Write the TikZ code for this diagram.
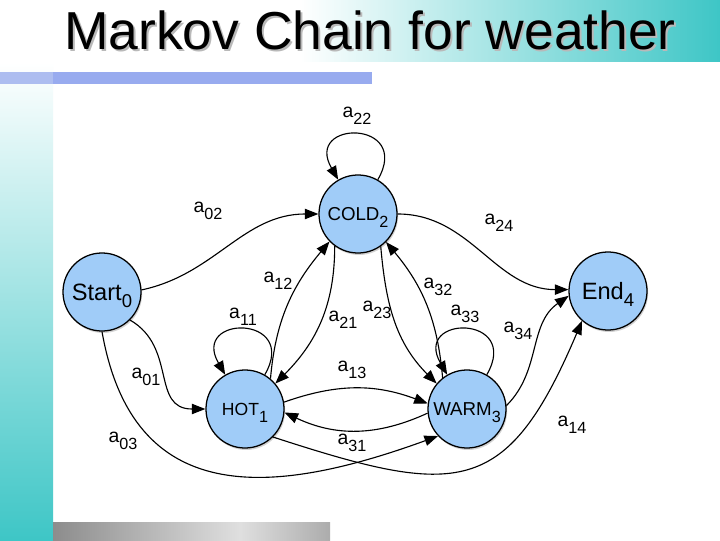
\documentclass[tikz,border=0pt]{standalone}
\usepackage{fontspec}
\setmainfont{Liberation Sans}
\usetikzlibrary{arrows.meta,shadows}
\definecolor{StateFill}{HTML}{A0CCF8}
\definecolor{SlideTeal}{HTML}{3EC6C6}
\definecolor{SlideBar}{HTML}{98ABEF}
\definecolor{SlideBarLight}{HTML}{ADBDF0}
\newcommand{\lowsub}[2][11.5]{\raisebox{-5pt}{\fontsize{#1}{#1}\selectfont #2}}

\begin{document}
\begin{tikzpicture}[
        x=0.025cm, y=0.025cm,
        state/.style={circle, draw=black, line width=0.9pt, fill=StateFill, minimum size=1.95cm, inner sep=0pt,
                      text depth=0pt, font=\fontsize{13.3}{15}\selectfont,
                      drop shadow={shadow xshift=0.8pt, shadow yshift=-1.4pt, opacity=0.35}},
        lbl/.style={font=\fontsize{13.8}{15}\selectfont, inner sep=0pt},
        arrow/.style={-{Triangle[length=3.4mm, width=2.6mm]}, line width=0.8pt}
    ]
        \useasboundingbox (0,0) rectangle (720,540);
        \fill[white] (0,0) rectangle (720,540);
        \shade[left color=white, right color=SlideTeal] (300,478) rectangle (720,540);
        \shade[top color=white, bottom color=SlideTeal] (0,0) rectangle (53,478);
        \fill[SlideBar] (0,456) rectangle (372,468);
        \fill[SlideBarLight] (0,456) rectangle (53,468);
        \shade[left color=gray!90, right color=gray!25] (53,0) rectangle (240,18);
        \shade[left color=gray!25, right color=gray!65] (240,0) rectangle (330,18);

        \node[text=gray!55, font=\fontsize{38}{40}\selectfont] (titleshade) at (372,508) {Markov Chain for weather};
        \node[font=\fontsize{38}{40}\selectfont] (title) at (370,510) {Markov Chain for weather};

        \node[state, font=\fontsize{16.8}{18}\selectfont] (start) at (102,248) {Start\lowsub[13.2]{0}};
        \node[state] (cold) at (358,326) {COLD\lowsub{2}};
        \node[state, font=\fontsize{16.8}{18}\selectfont] (endst) at (608,249) {End\lowsub[13.2]{4}};
        \node[state, font=\fontsize{12.5}{14}\selectfont] (hot) at (245,131) {HOT\lowsub{1}};
        \node[state] (warm) at (467,131) {WARM\lowsub{3}};

        \draw[arrow] (start.3) to[out=12, in=180] (cold.180);
        \draw[arrow] (cold.0) to[out=0, in=180] (endst.178);
        \draw[arrow] (start.-45) to[out=-30, in=180, looseness=1.2] (hot.180);
        \draw[arrow] (start.-90) to[out=-80, in=200, looseness=1.3] (warm.223);
        \draw[arrow] (hot.-45) to[out=-18, in=247, looseness=1.5] (endst.229);
        \draw[arrow] (warm.5) to[out=45, in=215] (endst.187);
        \draw[arrow] (hot.50) to[out=85, in=230] (cold.224);
        \draw[arrow] (cold.234) to[out=-90, in=45] (hot.40);
        \draw[arrow] (cold.305) to[out=-85, in=135] (warm.140);
        \draw[arrow] (warm.128) to[out=95, in=-50] (cold.315);
        \draw[arrow] (hot.10) to[bend left=20] (warm.172);
        \draw[arrow] (warm.186) to[bend left=25] (hot.-5);

        % self loops
        \draw[arrow] (cold.60) to[out=60, in=120, looseness=4.5] (cold.120);
        \draw[arrow] (hot.60) to[out=60, in=120, looseness=4.5] (hot.120);
        \draw[arrow] (warm.60) to[out=60, in=120, looseness=4.5] (warm.120);

        \node[lbl] (l22) at (357,424) {a\lowsub{22}};
        \node[lbl] (l02) at (208,329) {a\lowsub{02}};
        \node[lbl] (l24) at (499,317) {a\lowsub{24}};
        \node[lbl] (l12) at (278,259) {a\lowsub{12}};
        \node[lbl] (l11) at (243,223) {a\lowsub{11}};
        \node[lbl] (l21) at (343,220) {a\lowsub{21}};
        \node[lbl] (l23) at (377,230) {a\lowsub{23}};
        \node[lbl] (l32) at (438,253) {a\lowsub{32}};
        \node[lbl] (l33) at (465,226) {a\lowsub{33}};
        \node[lbl] (l34) at (518,209) {a\lowsub{34}};
        \node[lbl] (l01) at (146,163) {a\lowsub{01}};
        \node[lbl] (l13) at (352,170) {a\lowsub{13}};
        \node[lbl] (l31) at (352,97) {a\lowsub{31}};
        \node[lbl] (l03) at (123,99) {a\lowsub{03}};
        \node[lbl] (l14) at (572,115) {a\lowsub{14}};
    \end{tikzpicture}
\end{document}
